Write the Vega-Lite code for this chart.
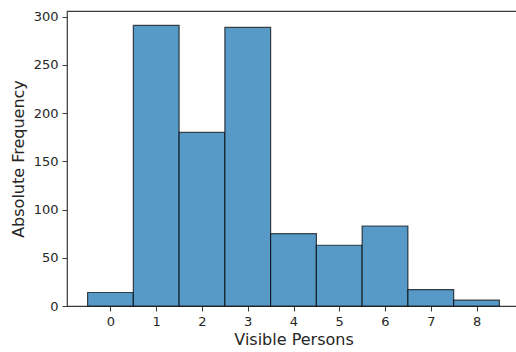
{
  "$schema": "https://vega.github.io/schema/vega-lite/v6.json",
  "width": 453,
  "height": 295,
  "autosize": {"type": "none"},
  "padding": {"left": 67, "top": 11, "right": 0, "bottom": 46},
  "background": "white",
  "config": {
    "view": {"stroke": "#3a3a3a", "strokeWidth": 1.2},
    "font": "DejaVu Sans",
    "axis": {
      "domain": false,
      "grid": false,
      "tickColor": "#3a3a3a",
      "tickSize": 5,
      "tickWidth": 1,
      "labelFont": "DejaVu Sans",
      "labelFontSize": 13,
      "labelColor": "#262626",
      "titleFont": "DejaVu Sans",
      "titleFontSize": 16,
      "titleFontWeight": "normal",
      "titleColor": "#262626",
      "labelPadding": 4
    }
  },
  "data": {
    "values": [
      {"lo": -0.5, "hi": 0.5, "count": 14},
      {"lo": 0.5, "hi": 1.5, "count": 291},
      {"lo": 1.5, "hi": 2.5, "count": 180},
      {"lo": 2.5, "hi": 3.5, "count": 289},
      {"lo": 3.5, "hi": 4.5, "count": 75},
      {"lo": 4.5, "hi": 5.5, "count": 63},
      {"lo": 5.5, "hi": 6.5, "count": 83},
      {"lo": 6.5, "hi": 7.5, "count": 17},
      {"lo": 7.5, "hi": 8.5, "count": 6}
    ]
  },
  "mark": {
    "type": "bar",
    "fill": "#5799c7",
    "stroke": "#000000",
    "strokeOpacity": 0.7,
    "strokeWidth": 1.2
  },
  "encoding": {
    "x": {
      "field": "lo",
      "type": "quantitative",
      "scale": {"domain": [-0.95, 8.95], "nice": false, "zero": false},
      "axis": {"values": [0, 1, 2, 3, 4, 5, 6, 7, 8], "title": "Visible Persons", "titlePadding": 3}
    },
    "x2": {"field": "hi"},
    "y": {
      "field": "count",
      "type": "quantitative",
      "scale": {"domain": [0, 306], "nice": false},
      "axis": {"values": [0, 50, 100, 150, 200, 250, 300], "title": "Absolute Frequency", "titlePadding": 7}
    },
    "y2": {"datum": 0}
  }
}
